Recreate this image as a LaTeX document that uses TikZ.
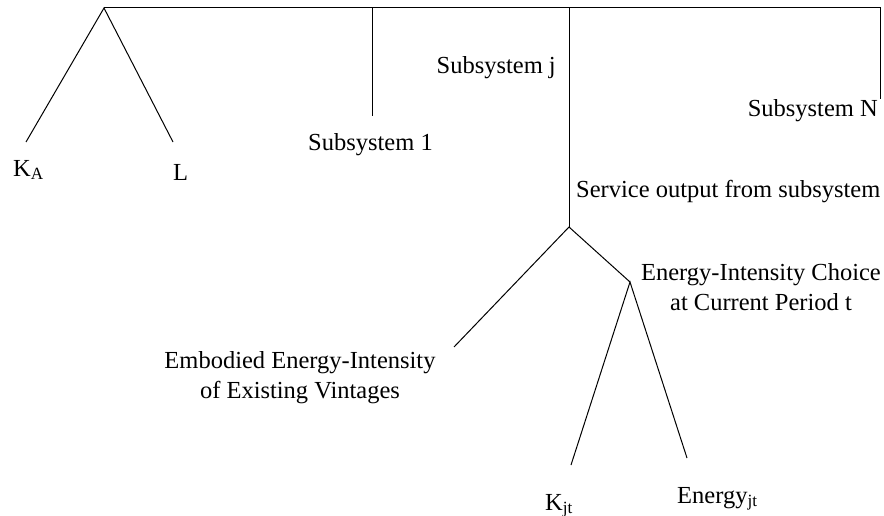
\documentclass[tikz,border=0pt]{standalone}
\usepackage{fontspec}
\setmainfont{Liberation Serif}
\begin{document}
\begin{tikzpicture}[x=1pt,y=-1pt,
  lbl/.style={inner sep=0pt,font=\fontsize{24.5}{30}\selectfont},
  twoline/.style={lbl,align=center,anchor=base},
  conn/.style={line width=1pt}]
\useasboundingbox (0,0) rectangle (884,516);
% branch points and free ends
\coordinate (apex) at (104,8);
\coordinate (topR) at (880,8);
\coordinate (endN) at (880,99);
\coordinate (endKA) at (26,142);
\coordinate (endL) at (173,142);
\coordinate (top1) at (372,8);
\coordinate (end1) at (372,116);
\coordinate (topj) at (569,8);
\coordinate (splitj) at (569,227);
\coordinate (endEmb) at (454,347);
\coordinate (splitE) at (630,282);
\coordinate (endK) at (571,465);
\coordinate (endEn) at (687,458);
% labels
\node[lbl,anchor=base west] (KA) at (13,176) {K\textsubscript{A}};
\node[lbl,anchor=base west] (L) at (173,181) {L};
\node[lbl,anchor=base west] (S1) at (308,151) {Subsystem 1};
\node[lbl,anchor=base east] (Sj) at (556,74) {Subsystem j};
\node[lbl,anchor=base east] (SN) at (878,117) {Subsystem N};
\node[lbl,anchor=base west] (serv) at (576,197) {Service output from subsystem};
\node[twoline] (EIC) at (761,310) {Energy-Intensity Choice\\at Current Period t};
\node[twoline] (emb) at (300,398) {Embodied Energy-Intensity\\of Existing Vintages};
\node[lbl,anchor=base west] (Kjt) at (545,510) {K\textsubscript{jt}};
\node[lbl,anchor=base west] (Ejt) at (677,503) {Energy\textsubscript{jt}};
% connectors
\draw[conn] (apex) -- (topR) -- (endN);
\draw[conn] (endKA) -- (apex) -- (endL);
\draw[conn] (top1) -- (end1);
\draw[conn] (topj) -- (splitj);
\draw[conn] (endEmb) -- (splitj) -- (splitE);
\draw[conn] (endK) -- (splitE) -- (endEn);
\end{tikzpicture}
\end{document}
